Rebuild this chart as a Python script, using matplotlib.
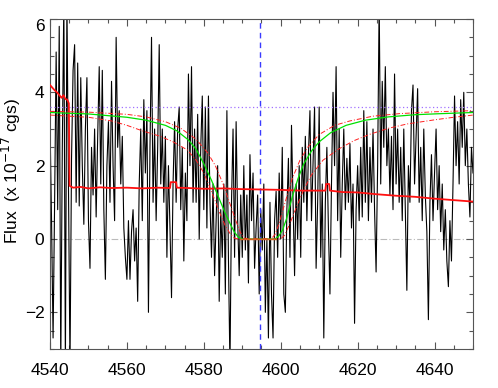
import numpy as np
import matplotlib
matplotlib.use('Agg')
from matplotlib import pyplot as plt
from matplotlib.ticker import MultipleLocator

plt.rcParams['font.family'] = ['Liberation Sans', 'DejaVu Sans']

# observed spectrum, sampled every 0.4 A from 4540 A
wave_start = 4540.0
wave_step = 0.4
flux = [
    3.2, 0.5, -2.7, 1.0, 5.1, 0.8, 5.8, -3.5, 2.5, 6.5,
    -3.5, 6.5, 1.5, -3.5, 2.2, 4.6, 5.3, 1.0, 4.8, 0.9,
    4.4, 2.0, 0.4, 3.0, 4.4, 0.5, -0.8, 2.5, 1.2, 3.0,
    0.6, 2.8, 4.7, 1.5, 4.6, 0.8, -1.1, 2.0, 3.2, 1.0,
    4.3, 2.0, 0.5, 5.5, 2.5, 3.5, 1.5, 2.8, 0.3, -0.5,
    -1.1, 0.5, -1.1, 0.2, 0.8, -0.6, 0.3, -1.7, 1.5, 3.0,
    0.5, 3.8, 1.8, 3.5, -2.0, 2.5, 5.5, 1.0, 3.0, 0.5,
    2.5, 5.3, 1.5, 3.0, 1.0, 2.8, -0.5, 2.0, 0.3, -1.6,
    1.5, 3.2, 1.0, 3.0, 3.6, 0.8, 2.5, -0.6, 1.8, 0.5,
    4.5, 2.0, 4.7, 1.0, 3.0, 1.0, 3.4, 0.0, 2.5, 3.9,
    0.8, 3.6, 0.3, 3.9, 1.0, -0.5, 1.5, -1.0, 0.5, 2.0,
    -1.7, 0.8, -0.5, 1.5, -1.5, 3.5, -0.5, -3.5, 1.0, 3.0,
    -0.5, 3.2, 0.5, -1.0, 1.2, -0.5, 2.0, -0.3, 1.2, -1.2,
    2.3, 0.5, 1.8, -0.8, 0.3, 1.2, -1.5, 0.8, -0.3, 1.5,
    -2.0, 0.0, -2.7, 1.0, -1.5, -2.7, 0.5, 1.3, -0.5, 1.8,
    0.0, 2.5, -1.5, -2.0, 0.8, 2.2, -0.5, 3.1, 1.0, -1.0,
    1.5, 0.0, 2.0, -0.5, 2.5, 1.0, 2.8, 0.5, 2.3, 3.5,
    0.5, 2.0, 3.6, -0.8, 1.0, 3.6, -0.5, 1.5, -2.7, 1.0,
    2.5, 0.3, -1.5, 1.5, 4.0, 2.0, 4.7, 0.5, 3.0, -0.5,
    1.5, 3.0, 0.8, 2.2, 1.0, 2.6, 0.3, 1.5, -2.3, 0.8,
    2.0, 0.5, 2.5, 0.6, 3.5, 1.0, 3.2, 0.5, 2.5, 1.0,
    3.0, 0.8, -0.9, 2.0, 6.5, 1.5, 4.3, 2.5, 4.7, 2.0,
    3.0, 1.2, 2.8, 0.8, 4.5, 1.5, 3.0, 1.0, 2.5, 0.5,
    3.0, 0.8, -1.4, 2.0, 1.0, 3.5, 4.2, 1.5, 2.8, 4.1,
    1.0, 2.5, 0.5, 3.0, 1.2, 0.2, -2.2, 1.0, 2.3, 0.5,
    1.8, 3.0, 0.8, 2.0, 0.2, 1.5, -0.3, 0.8, -0.6, -1.3,
    0.5, -0.6, 1.5, 3.9, 2.0, 3.2, 1.5, 3.8, 2.5, 4.0,
    2.0, 3.0, 1.5, 0.6, 2.5, 1.8,
]
wave = wave_start + wave_step * np.arange(len(flux))

# red solid curve
red_wave = [4540, 4541, 4542, 4543, 4543.5, 4544, 4544.5, 4544.9, 4545.1, 4546,
            4548, 4550, 4553, 4556, 4560, 4564, 4568, 4571.2, 4571.4, 4572.8,
            4573.0, 4576, 4580, 4585, 4590, 4595, 4600, 4605, 4610, 4611.6,
            4611.8, 4612.6, 4612.8, 4616, 4620, 4625, 4630, 4635, 4640, 4645, 4650]
red_flux = [4.20, 4.08, 3.98, 3.85, 3.92, 3.82, 3.80, 3.70, 1.45, 1.40,
            1.42, 1.38, 1.41, 1.39, 1.40, 1.38, 1.40, 1.39, 1.55, 1.55,
            1.40, 1.39, 1.37, 1.38, 1.36, 1.35, 1.34, 1.32, 1.32, 1.32,
            1.50, 1.50, 1.32, 1.28, 1.27, 1.22, 1.18, 1.15, 1.10, 1.06, 1.02]

# best-fit profile (green)
fit_wave = [4540, 4550, 4560, 4565, 4570, 4573, 4576, 4578, 4580, 4582,
            4584, 4585.5, 4587, 4588, 4589, 4590, 4598.5, 4599.5, 4600.5, 4601.5,
            4603, 4604.5, 4606, 4608, 4610, 4613, 4617, 4622, 4628, 4635, 4642, 4650]
fit_flux = [3.45, 3.41, 3.32, 3.24, 3.10, 2.95, 2.70, 2.45, 2.05, 1.60,
            1.10, 0.72, 0.38, 0.18, 0.05, 0.0, 0.0, 0.08, 0.25, 0.55,
            1.15, 1.65, 2.05, 2.40, 2.65, 2.90, 3.10, 3.24, 3.33, 3.39, 3.42, 3.45]

# bounding profiles (red dash-dot)
hi_wave = [4540, 4550, 4560, 4565, 4570, 4574, 4578, 4581, 4583, 4585,
           4587, 4588.5, 4589.5, 4590.5, 4591.5, 4597.5, 4598.5, 4599.5, 4601, 4603,
           4605, 4607, 4610, 4614, 4618, 4624, 4631, 4640, 4650]
hi_flux = [3.48, 3.46, 3.40, 3.33, 3.20, 3.02, 2.72, 2.35, 2.00, 1.50,
           0.90, 0.45, 0.18, 0.03, 0.0, 0.0, 0.12, 0.40, 0.95, 1.65,
           2.15, 2.50, 2.85, 3.10, 3.22, 3.35, 3.42, 3.47, 3.50]
lo_wave = [4540, 4550, 4556, 4560, 4564, 4568.7, 4572, 4575.7, 4578, 4580,
           4582, 4584, 4585.5, 4587, 4588, 4589, 4600, 4601, 4602.5, 4604,
           4606, 4608, 4611, 4615, 4619, 4623, 4628, 4633, 4640, 4645, 4650]
lo_flux = [3.38, 3.32, 3.22, 3.10, 2.95, 2.80, 2.65, 2.43, 2.15, 1.80,
           1.30, 0.75, 0.38, 0.12, 0.02, 0.0, 0.0, 0.10, 0.45, 0.85,
           1.35, 1.75, 2.15, 2.45, 2.68, 2.85, 3.02, 3.14, 3.25, 3.32, 3.38]

floor_wave = [4589.5, 4598.8]
floor_flux = [0.0, 0.0]

continuum_level = 3.59
line_center = 4594.6

fig = plt.figure(figsize=(4.98, 3.88), dpi=100)
ax = fig.add_axes([50 / 498, 39 / 388, 423 / 498, 330 / 388])

ax.plot(wave, flux, color='black', lw=0.8, zorder=2)
ax.axhline(0, color='#bbbbbb', lw=0.8, ls=(0, (6, 2, 1, 2)), zorder=1)
ax.axhline(continuum_level, color='#a070ff', lw=0.9, ls=(0, (1, 2)), zorder=3)
ax.axvline(line_center, color='#3a3aff', lw=1.0, ls=(0, (4, 3)), zorder=3)
ax.plot(red_wave, red_flux, color='#ff1010', lw=1.3, zorder=4)
ax.plot(fit_wave, fit_flux, color='#00e000', lw=0.9, zorder=5)
ax.plot(hi_wave, hi_flux, color='#ff2020', lw=0.7, ls=(0, (5, 2, 1, 2)), zorder=5)
ax.plot(lo_wave, lo_flux, color='#ff2020', lw=0.7, ls=(0, (5, 2, 1, 2)), zorder=5)
ax.plot(floor_wave, floor_flux, color='#d06020', lw=1.0, zorder=6)

ax.set_xlim(4540, 4650)
ax.set_ylim(-3, 6)
ax.xaxis.set_major_locator(MultipleLocator(20))
ax.xaxis.set_minor_locator(MultipleLocator(5))
ax.yaxis.set_major_locator(MultipleLocator(2))
ax.yaxis.set_minor_locator(MultipleLocator(0.5))
ax.tick_params(which='both', direction='in', top=True, right=True,
               color='#555555', labelsize=12.5)
ax.tick_params(which='major', length=5, width=0.8)
ax.tick_params(which='minor', length=3, width=0.8)
ax.tick_params(axis='x', pad=10)
ax.tick_params(axis='y', pad=4)
for sp in ax.spines.values():
    sp.set_color('#555555')
    sp.set_linewidth(0.8)

fig.canvas.draw()
for lab in ax.get_yticklabels():
    if lab.get_text() == '6':
        lab.set_va('top')

fig.text(11 / 498, 0.56, 'Flux  (x 10$^{-17}$ cgs)', rotation=90,
         ha='center', va='center', fontsize=12.5)

fig.savefig('out.png', dpi=100)
